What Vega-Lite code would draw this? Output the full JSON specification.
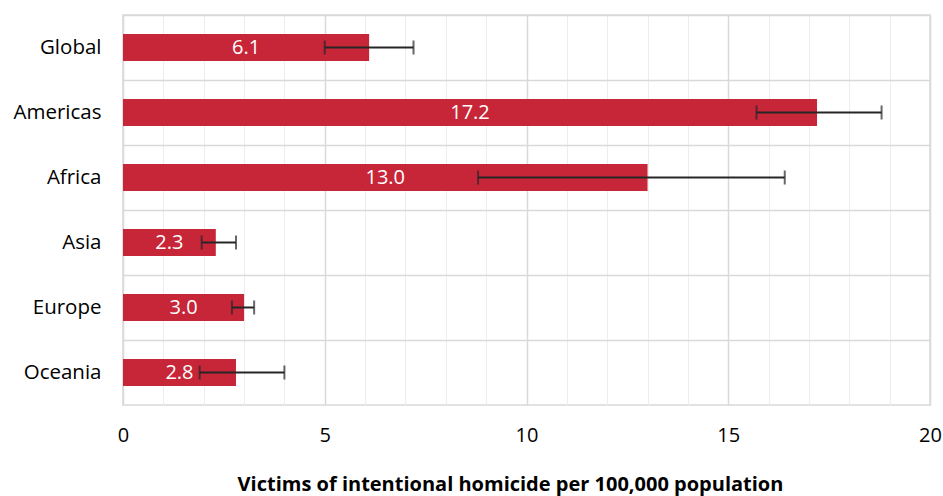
{
  "$schema": "https://vega.github.io/schema/vega-lite/v6.json",
  "width": 807,
  "height": 390,
  "autosize": "none",
  "padding": {"left": 123, "top": 15, "right": 13, "bottom": 91},
  "background": "white",
  "config": {"view": {"stroke": "#d9d9d9", "strokeWidth": 1.5}, "font": "Open Sans"},
  "data": {"values": [
    {"region": "Global", "value": 6.1, "lo": 5.0, "hi": 7.2},
    {"region": "Americas", "value": 17.2, "lo": 15.7, "hi": 18.8},
    {"region": "Africa", "value": 13.0, "lo": 8.8, "hi": 16.4},
    {"region": "Asia", "value": 2.3, "lo": 1.95, "hi": 2.8},
    {"region": "Europe", "value": 3.0, "lo": 2.7, "hi": 3.25},
    {"region": "Oceania", "value": 2.8, "lo": 1.9, "hi": 4.0}
  ]},
  "encoding": {
    "y": {
      "field": "region", "type": "nominal", "sort": null,
      "scale": {"paddingInner": 0, "paddingOuter": 0},
      "axis": {
        "title": null, "domain": false, "ticks": false, "grid": true, "bandPosition": 0,
        "gridColor": "#d9d9d9", "gridWidth": 1.5,
        "labelFontSize": 20.5, "labelColor": "#000000", "labelPadding": 22, "labelFont": "Open Sans"
      }
    }
  },
  "layer": [
    {
      "mark": {"type": "bar", "color": "#C72638", "height": {"band": 0.415}},
      "encoding": {
        "x": {
          "field": "value", "type": "quantitative",
          "scale": {"domain": [0, 20], "nice": false},
          "axis": {
            "values": [0,1,2,3,4,5,6,7,8,9,10,11,12,13,14,15,16,17,18,19,20],
            "labelExpr": "datum.value % 5 === 0 ? datum.label : ''",
            "labelFlush": false,
            "gridColor": {"condition": {"test": "datum.value % 5 === 0", "value": "#d9d9d9"}, "value": "#ededed"},
            "gridWidth": {"condition": {"test": "datum.value % 5 === 0", "value": 1.5}, "value": 1},
            "domain": false, "ticks": false,
            "labelFontSize": 20, "labelColor": "#000000", "labelPadding": 20, "labelFont": "Open Sans",
            "title": "Victims of intentional homicide per 100,000 population",
            "titleFontSize": 20, "titleFontWeight": "bold", "titleColor": "#000000", "titlePadding": 29, "titleFont": "Open Sans",
            "titleX": 387
          }
        }
      }
    },
    {
      "mark": {"type": "rule", "color": "#262626", "strokeWidth": 2},
      "encoding": {
        "x": {"field": "lo", "type": "quantitative", "scale": {"domain": [0, 20], "nice": false}, "axis": null},
        "x2": {"field": "hi"}
      }
    },
    {
      "mark": {"type": "tick", "color": "#262626", "thickness": 2, "size": 14, "orient": "vertical"},
      "encoding": {
        "x": {"field": "lo", "type": "quantitative", "scale": {"domain": [0, 20], "nice": false}, "axis": null}
      }
    },
    {
      "mark": {"type": "tick", "color": "#262626", "thickness": 2, "size": 14, "orient": "vertical"},
      "encoding": {
        "x": {"field": "hi", "type": "quantitative", "scale": {"domain": [0, 20], "nice": false}, "axis": null}
      }
    },
    {
      "mark": {"type": "text", "color": "white", "fontSize": 20, "font": "Open Sans", "align": "center", "baseline": "middle"},
      "encoding": {
        "x": {"field": "value", "type": "quantitative", "scale": {"domain": [0, 40], "nice": false}, "axis": null},
        "text": {"field": "value", "type": "quantitative", "format": ".1f"}
      }
    }
  ],
  "resolve": {"scale": {"x": "independent"}}
}
